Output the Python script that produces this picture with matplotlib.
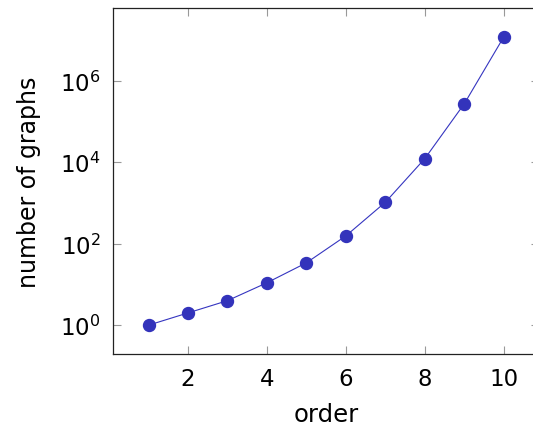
import matplotlib
matplotlib.use("Agg")
import matplotlib.pyplot as plt
from matplotlib.ticker import NullLocator, FixedLocator

order = [1, 2, 3, 4, 5, 6, 7, 8, 9, 10]
num_graphs = [1, 2, 4, 11, 34, 156, 1044, 12346, 274668, 12005168]
x_ticks = [2, 4, 6, 8, 10]
y_ticks = [1e0, 1e2, 1e4, 1e6]

plt.rcParams['font.family'] = ['DejaVu Sans']
plt.rcParams['mathtext.fontset'] = 'dejavusans'

fig = plt.figure(figsize=(5.33, 4.27), dpi=100)
ax = fig.add_axes([0.212, 0.1686, 0.80, 0.8104])

ax.plot(order, num_graphs, color='#3535c0', lw=0.8, marker='o', ms=8.6,
        markerfacecolor='#3333bb', markeredgecolor='#3333bb', zorder=3)
ax.set_yscale('log')
ax.set_xlim(0.1, 10.9)
ax.set_ylim(10 ** -0.708, 10 ** 7.787)
ax.xaxis.set_major_locator(FixedLocator(x_ticks))
ax.yaxis.set_major_locator(FixedLocator(y_ticks))
ax.yaxis.set_minor_locator(NullLocator())
ax.xaxis.set_minor_locator(NullLocator())

ax.tick_params(direction='in', length=6, width=0.8, color='#999999',
               top=True, right=True, labelsize=16.5, pad=9)
for s in ax.spines.values():
    s.set_linewidth(0.9)
    s.set_color('#222222')

ax.set_xlabel('order', fontsize=17.5, labelpad=9)
ax.set_ylabel('number of graphs', fontsize=17, labelpad=14)

fig.savefig('out.png', dpi=100)
